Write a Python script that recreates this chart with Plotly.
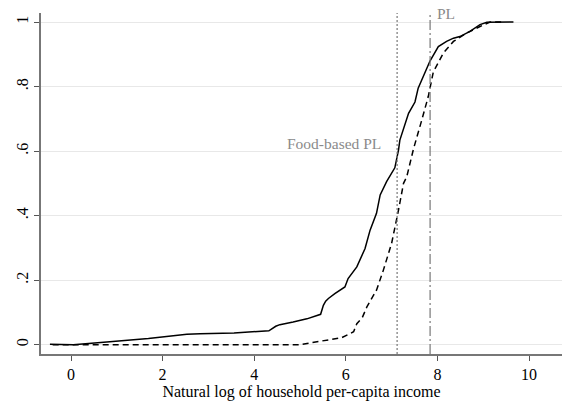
import plotly.graph_objects as go

# CDF curves
x_solid = [-0.46, 0.05, 0.78, 1.69, 2.53, 2.82, 3.56, 4.32, 4.47, 4.56, 4.85, 5.15, 5.45,
           5.51, 5.56, 5.62, 5.76, 5.98, 6.05, 6.24, 6.42, 6.53, 6.67, 6.75, 6.89, 7.07,
           7.15, 7.18, 7.37, 7.51, 7.58, 7.69, 7.84, 8.02, 8.20, 8.35, 8.49, 8.71, 8.93,
           9.08, 9.66]
y_solid = [0.001, 0.0, 0.008, 0.019, 0.032, 0.034, 0.036, 0.043, 0.057, 0.062, 0.070, 0.080,
           0.094, 0.122, 0.135, 0.143, 0.158, 0.179, 0.205, 0.241, 0.298, 0.355, 0.407, 0.464,
           0.505, 0.548, 0.603, 0.634, 0.717, 0.752, 0.795, 0.830, 0.880, 0.924, 0.940, 0.950,
           0.955, 0.971, 0.992, 0.999, 1.0]

x_dashed = [-0.40, 5.00, 5.37, 5.90, 6.09, 6.17, 6.24, 6.36, 6.46, 6.55, 6.67, 6.82, 7.00,
            7.15, 7.26, 7.33, 7.40, 7.48, 7.66, 7.80, 7.91, 8.02, 8.13, 8.35, 8.64, 8.93,
            9.15, 9.40]
y_dashed = [0.0, 0.0, 0.009, 0.021, 0.034, 0.040, 0.065, 0.084, 0.117, 0.138, 0.169, 0.231,
            0.314, 0.417, 0.500, 0.520, 0.562, 0.608, 0.697, 0.769, 0.845, 0.873, 0.904, 0.940,
            0.966, 0.986, 1.0, 1.0]

food_pl = 7.12
pl = 7.84

x_ticks = [0, 2, 4, 6, 8, 10]
y_ticks = [0, 0.2, 0.4, 0.6, 0.8, 1]
y_tick_labels = ["0", ".2", ".4", ".6", ".8", "1"]

FONT = "Liberation Serif, Times New Roman, serif"

fig = go.Figure()
fig.add_trace(go.Scatter(x=x_solid, y=y_solid, mode="lines",
                         line=dict(color="black", width=1.5), showlegend=False))
fig.add_trace(go.Scatter(x=x_dashed, y=y_dashed, mode="lines",
                         line=dict(color="black", width=1.5, dash="6px,4px"), showlegend=False))

fig.add_shape(type="line", x0=food_pl, x1=food_pl, y0=0, y1=1, xref="x", yref="y domain",
              line=dict(color="#777777", width=1.2, dash="2px,2px"))
fig.add_shape(type="line", x0=pl, x1=pl, y0=0, y1=1, xref="x", yref="y domain",
              line=dict(color="#777777", width=1.2, dash="10px,3px,2px,3px"))

fig.add_annotation(x=6.82, y=0.625, text="Food-based PL", showarrow=False,
                   xanchor="right", yanchor="middle",
                   font=dict(family=FONT, size=15.5, color="#8a8a8a"))
fig.add_annotation(x=7.95, y=1.027, text="PL", showarrow=False,
                   xanchor="left", yanchor="middle",
                   font=dict(family=FONT, size=15.5, color="#8a8a8a"))

fig.update_layout(
    width=571, height=407,
    margin=dict(l=41, r=9, t=13, b=53),
    paper_bgcolor="white", plot_bgcolor="white",
    font=dict(family=FONT, size=16, color="black"),
    xaxis=dict(range=[-0.655, 10.72], tickvals=x_ticks, ticks="outside", ticklen=5,
               tickcolor="#555555", showline=True, linecolor="#777777", linewidth=1.5,
               showgrid=False, zeroline=False,
               title=dict(text="Natural log of household per-capita income",
                          font=dict(family=FONT, size=16), standoff=4),
               tickfont=dict(family=FONT, size=16)),
    yaxis=dict(range=[-0.029, 1.028], tickvals=y_ticks, ticktext=y_tick_labels,
               ticks="outside", ticklen=5, tickcolor="#555555", tickangle=-90,
               showline=True, linecolor="#777777", linewidth=1.5,
               showgrid=True, gridcolor="#e8e8e8", gridwidth=1, zeroline=False,
               tickfont=dict(family=FONT, size=16)),
)

fig.write_html("out.html")
